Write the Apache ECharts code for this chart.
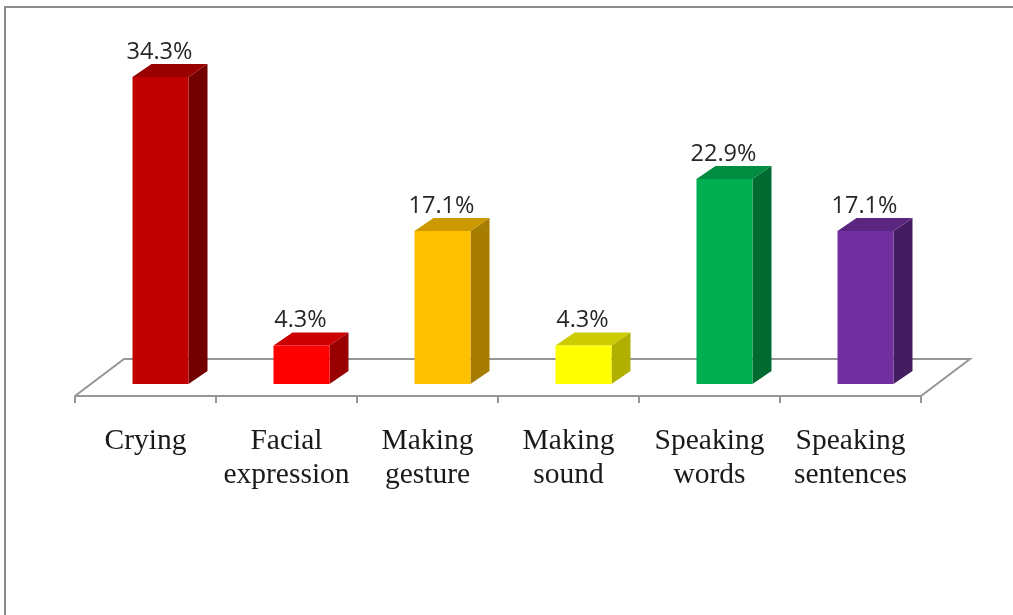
<!DOCTYPE html>
<html>
<head>
<meta charset="utf-8">
<script src="https://cdn.jsdelivr.net/npm/echarts@6/dist/echarts.min.js"></script>
<style>
  html, body { margin: 0; padding: 0; background: #fff; }
  #main { width: 1013px; height: 615px; }
</style>
</head>
<body>
<div id="main"></div>
<script>
const categories = ['Crying', 'Facial\nexpression', 'Making\ngesture', 'Making\nsound', 'Speaking\nwords', 'Speaking\nsentences'];
const percents = [34.3, 4.3, 17.1, 4.3, 22.9, 17.1];
const frontColors = ['#c00000', '#ff0000', '#ffc000', '#ffff00', '#00b050', '#7030a0'];
const topColors = ['#990000', '#cc0000', '#cc9a00', '#cccc00', '#008d40', '#5a2680'];
const sideColors = ['#730000', '#990000', '#a67d00', '#b0b000', '#006a30', '#431d60'];

// fake 3d depth of the bars and the floor
const depthX = 19, depthY = 13;
const barWidth = 56, barShift = 15;
const floorDrop = 12;

function renderBar(params, api) {
  const i = api.value(0);
  const base = api.coord([i, 0]);
  const top = api.coord([i, api.value(1)]);
  const x0 = base[0] + barShift - barWidth / 2;
  const x1 = x0 + barWidth;
  const y0 = base[1], y1 = top[1];
  return {
    type: 'group',
    children: [
      { type: 'polygon', shape: { points: [[x1, y0], [x1 + depthX, y0 - depthY], [x1 + depthX, y1 - depthY], [x1, y1]] }, style: { fill: sideColors[i] } },
      { type: 'polygon', shape: { points: [[x0, y1], [x0 + depthX, y1 - depthY], [x1 + depthX, y1 - depthY], [x1, y1]] }, style: { fill: topColors[i] } },
      { type: 'rect', shape: { x: x0, y: y1, width: barWidth, height: y0 - y1 }, style: { fill: frontColors[i] } },
      { type: 'text', x: (x0 + x1) / 2 - 1, y: y1 - depthY, style: { text: api.value(1).toFixed(1) + '%', fill: '#262626', font: '23.5px "Open Sans"', textAlign: 'center', textVerticalAlign: 'bottom' } }
    ]
  };
}

function renderFloor(params, api) {
  const cs = params.coordSys;
  const front = cs.y + cs.height + floorDrop;
  const back = front - 37;
  return {
    type: 'polyline',
    shape: { points: [[cs.x, front], [cs.x + 49, back], [cs.x + cs.width + 49, back], [cs.x + cs.width, front]] },
    style: { fill: null, stroke: '#969696', lineWidth: 2 }
  };
}

const chart = echarts.init(document.getElementById('main'));
chart.setOption({
  animation: false,
  backgroundColor: '#fff',
  grid: { left: 75, top: 26, width: 846, height: 358 },
  xAxis: {
    type: 'category',
    data: categories,
    offset: floorDrop,
    axisLine: { onZero: false, lineStyle: { color: '#969696', width: 2 } },
    axisTick: { show: true, length: 7, lineStyle: { color: '#969696', width: 2 } },
    axisLabel: { interval: 0, margin: 28, color: '#1a1a1a', fontFamily: '"Liberation Serif"', fontSize: 29.5, lineHeight: 34 }
  },
  yAxis: { type: 'value', min: 0, max: 40, show: false },
  graphic: [
    { type: 'polyline', shape: { points: [[5, 615], [5, 7], [1013, 7]] }, style: { fill: null, stroke: '#8c8c8c', lineWidth: 2 } }
  ],
  series: [
    { type: 'custom', renderItem: renderFloor, data: [[0, 0]], z: 1, silent: true },
    { type: 'custom', renderItem: renderBar, encode: { x: 0, y: 1 }, data: percents.map((v, i) => [i, v]), z: 2 }
  ]
});
</script>
</body>
</html>
